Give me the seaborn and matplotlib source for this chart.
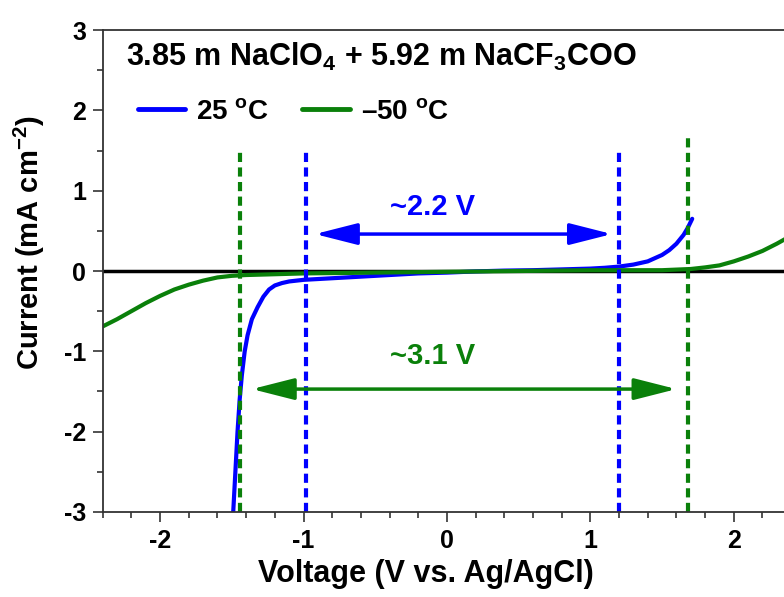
import numpy as np
import pandas as pd
import matplotlib
matplotlib.use("Agg")
import matplotlib.pyplot as plt
from matplotlib.ticker import MultipleLocator
import seaborn as sns

# LSV data (V vs Ag/AgCl, mA cm-2)
v_25 = [-1.49, -1.475, -1.46, -1.445, -1.43, -1.41, -1.39, -1.36, -1.32, -1.28, -1.24, -1.2,
        -1.15, -1.1, -1.0, -0.8, -0.6, -0.4, -0.2, 0.0, 0.2, 0.4, 0.6, 0.8, 1.0, 1.1, 1.2,
        1.3, 1.4, 1.5, 1.55, 1.6, 1.65, 1.68, 1.71]
i_25 = [-3.0, -2.5, -2.0, -1.6, -1.3, -1.0, -0.8, -0.6, -0.45, -0.32, -0.23, -0.18,
        -0.15, -0.13, -0.11, -0.09, -0.07, -0.05, -0.03, -0.02, -0.005, 0.005, 0.01, 0.02, 0.03, 0.04, 0.055,
        0.08, 0.12, 0.2, 0.26, 0.34, 0.45, 0.54, 0.65]
v_m50 = [-2.4, -2.3, -2.2, -2.1, -2.0, -1.9, -1.8, -1.7, -1.6, -1.5, -1.4, -1.2, -1.0, -0.5,
         0.0, 0.5, 1.0, 1.5, 1.7, 1.8, 1.9, 2.0, 2.1, 2.2, 2.3, 2.4]
i_m50 = [-0.69, -0.6, -0.5, -0.4, -0.31, -0.23, -0.17, -0.12, -0.08, -0.06, -0.05, -0.04, -0.03, -0.02,
         -0.01, 0.0, 0.01, 0.01, 0.025, 0.045, 0.07, 0.12, 0.18, 0.25, 0.34, 0.44]

# stability window limits
lim_25 = [-0.98, 1.2]
lim_m50 = [-1.445, 1.68]
win_labels = ["~2.2 V", "~3.1 V"]

blue = "#0000ff"
green = "#0a800a"

sns.set_theme(style="white")
plt.rcParams['font.family'] = ['Liberation Sans', 'DejaVu Sans']
plt.rcParams['font.weight'] = 'bold'
plt.rcParams['text.color'] = 'black'
plt.rcParams['axes.labelcolor'] = 'black'
plt.rcParams['xtick.color'] = 'black'
plt.rcParams['ytick.color'] = 'black'
plt.rcParams['mathtext.fontset'] = 'custom'
plt.rcParams['mathtext.rm'] = 'Liberation Sans:bold'
plt.rcParams['mathtext.bf'] = 'Liberation Sans:bold'
plt.rcParams['mathtext.it'] = 'Liberation Sans:bold'

df = pd.concat([
    pd.DataFrame({"V": v_25, "I": i_25, "T": "25 $^{o}$C"}),
    pd.DataFrame({"V": v_m50, "I": i_m50, "T": "\u201350 $^{o}$C"}),
])

fig = plt.figure(figsize=(7.84, 5.97), dpi=100)
ax = fig.add_axes([0.131, 0.1424, 0.869, 0.8073])

sns.lineplot(data=df, x="V", y="I", hue="T", palette=[blue, green], sort=False,
             estimator=None, lw=3, ax=ax)
ax.axhline(0, color="black", lw=2.5, zorder=1)

# dashed window markers
dash = (0, (2.2, 1.3))
ax.vlines(lim_25, -3, 1.52, colors=blue, linestyles=dash, lw=3)
ax.vlines(lim_m50[0], -3, 1.52, colors=green, linestyles=dash, lw=3)
ax.vlines(lim_m50[1], -3, 1.68, colors=green, linestyles=dash, lw=3)

arrow = '<|-|>,head_length=1.3,head_width=0.33'
ax.annotate('', xy=(1.15, 0.46), xytext=(-0.92, 0.46),
            arrowprops=dict(arrowstyle=arrow, color=blue, lw=2.5, mutation_scale=20, shrinkA=0, shrinkB=0))
ax.annotate('', xy=(1.6, -1.47), xytext=(-1.36, -1.47),
            arrowprops=dict(arrowstyle=arrow, color=green, lw=2.5, mutation_scale=20, shrinkA=0, shrinkB=0))
ax.text(-0.1, 0.8, win_labels[0], color=blue, fontsize=21, fontweight='bold', ha='center', va='center')
ax.text(-0.1, -1.06, win_labels[1], color=green, fontsize=21, fontweight='bold', ha='center', va='center')

ax.text(-2.24, 2.66, "3.85 m NaClO$_{4}$ + 5.92 m NaCF$_{3}$COO", fontsize=22,
        fontweight='bold', ha='left', va='center')

leg = ax.legend(loc='center left', bbox_to_anchor=(0.015, 0.83), ncol=2, frameon=False,
                fontsize=20, handlelength=1.7, columnspacing=1.2, handletextpad=0.4)
for line in leg.get_lines():
    line.set_linewidth(3.5)

ax.set_xlim(-2.4, 2.35)
ax.set_ylim(-3, 3)
ax.xaxis.set_major_locator(MultipleLocator(1))
ax.xaxis.set_minor_locator(MultipleLocator(0.2))
ax.yaxis.set_major_locator(MultipleLocator(1))
ax.yaxis.set_minor_locator(MultipleLocator(0.5))
ax.tick_params(which='both', direction='out', bottom=True, left=True, color='#333333', width=1.2,
               labelsize=18)
ax.tick_params(which='major', length=7, pad=5)
ax.tick_params(which='minor', length=4)
ax.set_xticklabels([f"{t:g}" for t in ax.get_xticks()])
ax.set_yticklabels([f"{t:g}" for t in ax.get_yticks()])
for s in ['left', 'bottom', 'top']:
    ax.spines[s].set_color('#333333')
    ax.spines[s].set_linewidth(1.3)
ax.spines['right'].set_visible(False)

ax.set_xlabel("Voltage (V vs. Ag/AgCl)", fontsize=22, fontweight='bold')
ax.set_ylabel("Current (mA cm$^{-2}$)", fontsize=21, fontweight='bold')
ax.xaxis.set_label_coords(0.474, -0.098)
ax.yaxis.set_label_coords(-0.082, 0.558)

fig.savefig("out.png", dpi=100)
